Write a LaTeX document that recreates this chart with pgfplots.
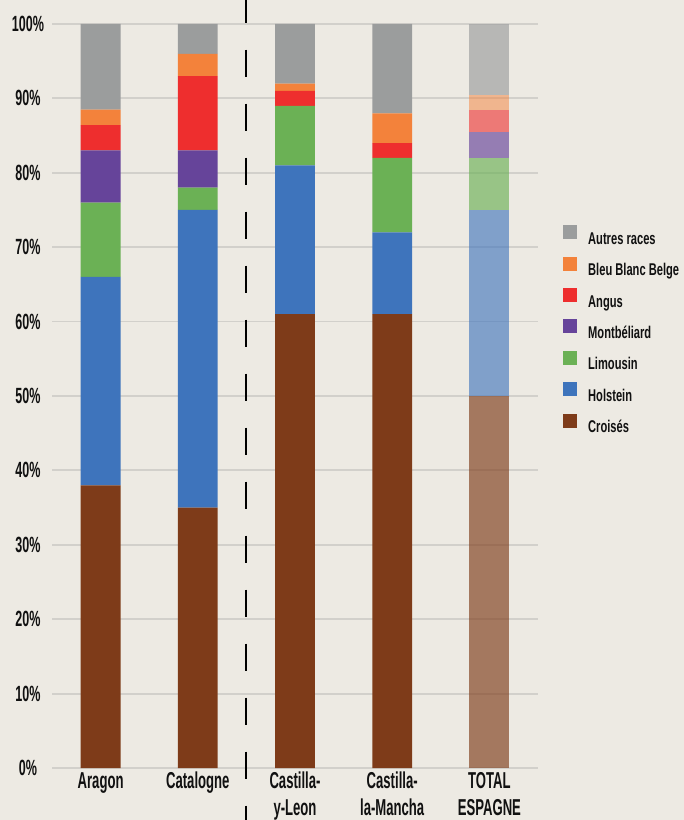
\documentclass[border=0pt]{standalone}
\usepackage{fontspec}
\setmainfont{Liberation Sans}
\newfontfamily\tickfont{Liberation Sans Bold}[FakeStretch=0.57]
\newfontfamily\legfont{Liberation Sans Bold}[FakeStretch=0.655]
\usepackage{pgfplots}
\pgfplotsset{compat=1.18}
\usepackage{pgfplotstable}
\definecolor{bg}{HTML}{EDEAE3}
\definecolor{gridc}{HTML}{D2D0CB}
\definecolor{cAut}{HTML}{9B9D9D}
\definecolor{cBBB}{HTML}{F3823B}
\definecolor{cAng}{HTML}{EE2E2E}
\definecolor{cMon}{HTML}{66449A}
\definecolor{cLim}{HTML}{6BB155}
\definecolor{cHol}{HTML}{3E74BC}
\definecolor{cCro}{HTML}{7E3B19}
\definecolor{txt}{HTML}{111111}
\pgfplotstableread{
x croises holstein limousin montb angus bbb autres
0 38 28 10 7 3.4 2.1 11.5
1 35 40 3 5 10 3 4
2 61 20 8 0 2 1 8
3 61 11 10 0 2 4 12
}\regions
\pgfplotstableread{
x croises holstein limousin montb angus bbb autres
4 50 25 7 3.5 3 2 9.5
}\total
\pgfplotsset{
  mybase/.style={
    scale only axis, width=486pt, height=744pt,
    at={(52pt,52pt)}, anchor=south west,
    xmin=-0.5, xmax=4.5, ymin=0, ymax=100,
    ybar stacked, bar width=0.41,
    axis line style={draw=none}, tick style={draw=none},
  },
  sq/.style={legend image code/.code={\fill[##1] (0pt,-1pt) rectangle (14pt,13pt);}},
}
\begin{document}
\begin{tikzpicture}
\fill[bg] (0,0) rectangle (684pt,820pt);
\begin{axis}[mybase,
  ymajorgrids, grid style={color=gridc, line width=1.8pt},
  xtick={0,1,2,3,4},
  xticklabels={Aragon,Catalogne,{Castilla-\\y-Leon},{Castilla-\\la-Mancha},{TOTAL\\ESPAGNE}},
  ytick={0,10,...,100},
  yticklabels={0\%,10\%,20\%,30\%,40\%,50\%,60\%,70\%,80\%,90\%,100\%},
  xticklabel style={font=\tickfont\fontsize{23}{27}\selectfont, align=center, anchor=north, inner sep=0pt, yshift=-4pt, text=txt},
  yticklabel style={font=\tickfont\fontsize{22}{24}\selectfont, anchor=center, inner sep=0pt, xshift=-24pt, text=txt},
  clip=false,
  legend style={draw=none, fill=none, at={(1.0514,0.7298)}, anchor=north west,
    font=\legfont\fontsize{17}{19}\selectfont, row sep=12.4pt, inner sep=0pt, text=txt,
    nodes={inner sep=0pt, text height=12pt, text depth=0pt},
    /tikz/every odd column/.style={column sep=11pt}, cells={anchor=west}},
  reverse legend,
]
\addplot[fill=cCro, draw=none, sq] table[x=x,y=croises]{\regions};
\addplot[fill=cHol, draw=none, sq] table[x=x,y=holstein]{\regions};
\addplot[fill=cLim, draw=none, sq] table[x=x,y=limousin]{\regions};
\addplot[fill=cMon, draw=none, sq] table[x=x,y=montb]{\regions};
\addplot[fill=cAng, draw=none, sq] table[x=x,y=angus]{\regions};
\addplot[fill=cBBB, draw=none, sq] table[x=x,y=bbb]{\regions};
\addplot[fill=cAut, draw=none, sq] table[x=x,y=autres]{\regions};
\legend{Croisés,Holstein,Limousin,Montbéliard,Angus,Bleu Blanc Belge,Autres races}
\draw[black, line width=2pt, dash pattern=on 27pt off 27pt] (axis cs:1.5,103.8) -- (axis cs:1.5,-7.5);
\end{axis}
\begin{axis}[mybase, hide axis]
\addplot[fill=cCro, draw=none, fill opacity=0.65] table[x=x,y=croises]{\total};
\addplot[fill=cHol, draw=none, fill opacity=0.62] table[x=x,y=holstein]{\total};
\addplot[fill=cLim, draw=none, fill opacity=0.65] table[x=x,y=limousin]{\total};
\addplot[fill=cMon, draw=none, fill opacity=0.65] table[x=x,y=montb]{\total};
\addplot[fill=cAng, draw=none, fill opacity=0.6] table[x=x,y=angus]{\total};
\addplot[fill=cBBB, draw=none, fill opacity=0.5] table[x=x,y=bbb]{\total};
\addplot[fill=cAut, draw=none, fill opacity=0.65] table[x=x,y=autres]{\total};
\end{axis}
\pgfresetboundingbox
\useasboundingbox (0,0) rectangle (684pt,820pt);
\end{tikzpicture}
\end{document}
